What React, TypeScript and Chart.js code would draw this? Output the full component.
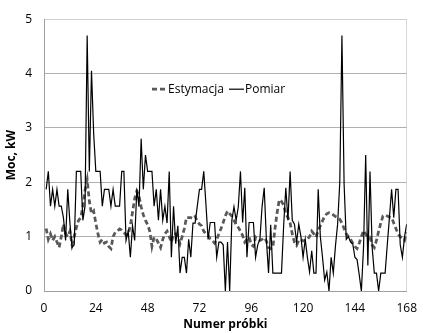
import React, { useEffect, useRef } from "react";
import { Chart, registerables } from "chart.js";

Chart.register(...registerables);

const xTicks = [0, 24, 48, 72, 96, 120, 144, 168];
const yTicks = [0, 1, 2, 3, 4, 5];

const pomiar = [
  1.87, 2.2, 1.56, 1.87, 1.56, 1.87, 1.56, 1.56, 1.35, 0.93,
  1.87, 1.25, 0.8, 0.85, 2.2, 2.2, 2.2, 1.3, 1.56, 4.7,
  2.2, 4.05, 2.9, 2.2, 2.2, 2.2, 1.56, 1.87, 1.87, 1.87,
  1.56, 1.87, 1.56, 1.56, 1.56, 2.2, 2.2, 0.93, 1.1, 0.62,
  1.2, 0.93, 1.87, 1.55, 2.8, 1.87, 2.5, 2.2, 2.2, 2.2,
  1.56, 1.87, 1.3, 1.87, 1.3, 1.56, 1.25, 2.2, 0.62, 1.56,
  0.87, 1.2, 0.33, 0.62, 0.62, 0.33, 0.95, 0.62, 1.25, 1.25,
  1.56, 1.87, 1.87, 2.2, 1.6, 0.95, 1.26, 1.26, 1.26, 0.62,
  0.9, 0.9, 0.85, 0, 0.9, 0, 1.3, 1.55, 1.3, 1.55,
  2.2, 1.26, 1.9, 0.62, 1.26, 1.26, 1.26, 0.62, 0.85, 0.95,
  1.55, 1.9, 0.95, 0.33, 1.22, 0.33, 0.33, 0.33, 0.33, 0.33,
  1.2, 1.9, 1.3, 2.2, 1.3, 1.23, 0.9, 1.23, 1.0, 0.62,
  0.95, 0.62, 0.35, 0.74, 0.33, 0.33, 1.87, 1.0, 0.62, 0.2,
  0.35, 0, 0.62, 0.33, 0.83, 1.23, 2.0, 4.7, 1.97, 0.95,
  1.0, 0.9, 0.87, 0.62, 0.58, 0.3, 0, 0.8, 2.5, 0.47,
  2.2, 0.8, 0.33, 0.33, 0, 0.33, 0.33, 0.33, 0.85, 1.35,
  1.87, 1.35, 1.87, 1.87, 0.85, 0.62, 1.0, 1.23,
];

const estymacja = [
  1.15, 0.95, 1.05, 0.93, 1.0, 0.9, 0.8, 1.0, 1.23, 1.05,
  1.0, 1.1, 0.85, 1.0, 1.17, 1.3, 1.35, 1.55, 1.85, 2.05,
  1.65, 1.42, 1.47, 1.25, 1.05, 0.9, 0.95, 0.88, 0.9, 0.82,
  0.78, 1.0, 1.08, 1.1, 1.14, 1.12, 1.08, 1.03, 1.05, 1.2,
  1.45, 1.7, 1.84, 1.75, 1.55, 1.4, 1.3, 1.22, 1.1, 0.82,
  0.99, 0.96, 0.88, 0.8, 0.95, 1.05, 1.1, 1.0, 0.9, 1.05,
  1.05, 1.0, 0.87, 1.0, 1.15, 1.35, 1.35, 1.35, 1.33, 1.37,
  1.28, 1.23, 1.2, 1.1, 1.05, 1.02, 0.96, 0.93, 0.88, 0.95,
  1.05, 1.15, 1.26, 1.38, 1.47, 1.42, 1.38, 1.3, 1.22, 1.17,
  1.1, 1.02, 0.9, 0.95, 0.99, 0.85, 0.82, 0.99, 0.95, 0.93,
  0.95, 0.98, 0.92, 0.8, 0.78, 0.8, 1.15, 1.45, 1.68, 1.65,
  1.58, 1.42, 1.35, 1.25, 1.05, 0.9, 0.84, 0.93, 0.95, 0.92,
  0.93, 0.95, 1.0, 1.1, 1.05, 0.99, 1.11, 1.2, 1.29, 1.38,
  1.42, 1.44, 1.43, 1.4, 1.37, 1.35, 1.32, 1.25, 1.15, 1.05,
  1.0, 0.95, 0.88, 0.82, 0.78, 0.88, 1.0, 1.11, 1.05, 0.99,
  0.99, 0.85, 0.8, 0.93, 1.1, 1.25, 1.38, 1.4, 1.38, 1.36,
  1.35, 1.25, 1.15, 1.05, 1.0, 0.97, 0.93, 1.08,
];

const FONT = "'Open Sans', 'Noto Sans', sans-serif";

const legendPlugin = {
  id: "insideLegend",
  afterDraw(chart: any) {
    const { ctx, chartArea } = chart;
    const y = chartArea.top + 70;
    ctx.save();
    ctx.font = `12px ${FONT}`;
    ctx.fillStyle = "#000";
    ctx.textBaseline = "middle";
    // Estymacja
    let x = chartArea.left + 108;
    ctx.strokeStyle = "#595959";
    ctx.lineWidth = 2.75;
    ctx.setLineDash([5, 3]);
    ctx.beginPath();
    ctx.moveTo(x, y);
    ctx.lineTo(x + 15, y);
    ctx.stroke();
    ctx.setLineDash([]);
    ctx.fillText(chart.data.datasets[0].label, x + 16, y);
    // Pomiar
    x = chartArea.left + 185;
    ctx.strokeStyle = "#000";
    ctx.lineWidth = 1.2;
    ctx.beginPath();
    ctx.moveTo(x, y);
    ctx.lineTo(x + 15, y);
    ctx.stroke();
    ctx.fillText(chart.data.datasets[1].label, x + 16, y);
    ctx.restore();
  },
};

export default function App() {
  const ref = useRef<HTMLCanvasElement>(null);

  useEffect(() => {
    document.body.style.margin = "0";
    const canvas = ref.current!;
    const chart = new Chart(canvas, {
      type: "line",
      data: {
        datasets: [
          {
            label: "Estymacja",
            data: estymacja.map((v, k) => ({ x: k + 1, y: v })),
            borderColor: "#595959",
            borderWidth: 2.75,
            borderDash: [5, 3],
            pointRadius: 0,
            tension: 0,
            order: 1,
          },
          {
            label: "Pomiar",
            data: pomiar.map((v, k) => ({ x: k + 1, y: v })),
            borderColor: "#000000",
            borderWidth: 1.2,
            pointRadius: 0,
            tension: 0,
            order: 0,
          },
        ],
      },
      options: {
        animation: false,
        responsive: false,
        maintainAspectRatio: false,
        layout: { padding: { left: 0, right: 13, top: 16, bottom: 0 } },
        plugins: {
          legend: { display: false },
          tooltip: { enabled: false },
        },
        scales: {
          x: {
            type: "linear",
            min: 0,
            max: 168,
            afterBuildTicks: (s: any) => {
              s.ticks = xTicks.map((v) => ({ value: v }));
            },
            afterFit: (s: any) => {
              s.height = 42;
            },
            ticks: {
              padding: 10,
              color: "#000",
              font: { family: FONT, size: 12 },
              maxRotation: 0,
            },
            grid: {
              drawTicks: false,
              color: (c: any) => (c.tick && c.tick.value === 168 ? "#d9d9d9" : "rgba(0,0,0,0)"),
            },
            border: { color: "#a0a0a0", width: 1 },
            title: {
              display: true,
              text: "Numer próbki",
              color: "#000",
              font: { family: FONT, size: 12, weight: "bold" },
              padding: { top: 0, bottom: 1 },
            },
          },
          y: {
            min: 0,
            max: 5,
            afterBuildTicks: (s: any) => {
              s.ticks = yTicks.map((v) => ({ value: v }));
            },
            afterFit: (s: any) => {
              s.width = 44;
            },
            ticks: {
              padding: 12,
              color: "#000",
              font: { family: FONT, size: 12 },
            },
            grid: {
              drawTicks: false,
              color: (c: any) => (c.tick && c.tick.value === 5 ? "#d0d0d0" : "#b0b0b0"),
            },
            border: { color: "#a0a0a0", width: 1 },
            title: {
              display: true,
              text: "Moc, kW",
              color: "#000",
              font: { family: FONT, size: 12, weight: "bold" },
              padding: { top: 4, bottom: 0 },
            },
          },
        },
      },
      plugins: [legendPlugin],
    });
    return () => chart.destroy();
  }, []);

  return (
    <div style={{ width: 427, height: 333 }}>
      <canvas ref={ref} width={427} height={333} style={{ display: "block" }} />
    </div>
  );
}
